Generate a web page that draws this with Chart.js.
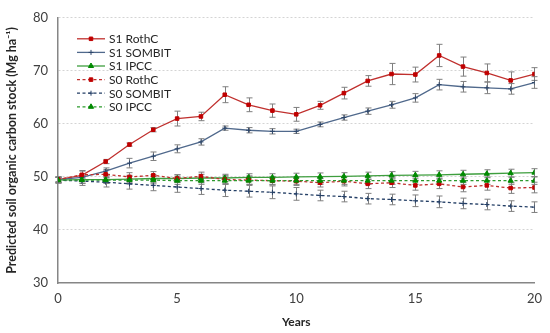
<!DOCTYPE html>
<html>
<head>
<meta charset="utf-8">
<script src="https://cdn.jsdelivr.net/npm/chart.js@4/dist/chart.umd.min.js"></script>
<style>
  html, body { margin: 0; padding: 0; background: #fff; }
  #wrap { width: 550px; height: 333px; position: relative; }
</style>
</head>
<body>
<div id="wrap"><canvas id="chart"></canvas></div>
<script>
const years = [0, 1, 2, 3, 4, 5, 6, 7, 8, 9, 10, 11, 12, 13, 14, 15, 16, 17, 18, 19, 20];
const seriesNames = ["S1 RothC", "S1 SOMBIT", "S1 IPCC", "S0 RothC", "S0 SOMBIT", "S0 IPCC"];
const yTicks = [30, 40, 50, 60, 70, 80];
const xTicks = [0, 5, 10, 15, 20];

const s1Roth = [49.5, 50.3, 52.9, 56.1, 58.9, 61.0, 61.4, 65.5, 63.6, 62.5, 61.8, 63.5, 65.8, 68.1, 69.4, 69.3, 72.9, 70.8, 69.6, 68.2, 69.4];
const s1Sombit = [49.5, 49.9, 51.1, 52.6, 53.9, 55.3, 56.6, 59.2, 58.8, 58.6, 58.6, 59.9, 61.2, 62.4, 63.6, 64.9, 67.4, 67.0, 66.8, 66.6, 67.8];
const s1Ipcc = [49.4, 49.5, 49.5, 49.6, 49.7, 49.7, 49.8, 49.8, 49.9, 49.9, 50.0, 50.05, 50.1, 50.2, 50.3, 50.35, 50.4, 50.5, 50.6, 50.7, 50.8];
const s0Roth = [49.5, 50.4, 50.5, 50.0, 50.3, 49.7, 50.1, 49.5, 49.4, 49.3, 49.2, 48.9, 49.2, 48.7, 48.9, 48.4, 48.7, 48.1, 48.4, 47.9, 48.0];
const s0Sombit = [49.4, 49.2, 49.0, 48.7, 48.4, 48.1, 47.8, 47.5, 47.3, 47.1, 46.8, 46.5, 46.3, 45.9, 45.75, 45.5, 45.3, 45.0, 44.8, 44.5, 44.3];
const s0Ipcc = [49.4, 49.4, 49.4, 49.4, 49.4, 49.3, 49.3, 49.3, 49.3, 49.3, 49.3, 49.3, 49.3, 49.3, 49.3, 49.3, 49.3, 49.3, 49.3, 49.3, 49.3];

// +/- error bar sizes
const s1RothErr = [0.5, 0.8, 0.4, 0.3, 0.4, 1.4, 0.8, 1.5, 1.3, 1.25, 1.3, 0.75, 1.1, 1.0, 2.0, 1.4, 2.1, 1.8, 1.7, 1.6, 1.2];
const s1SombitErr = [0.4, 0.3, 0.6, 0.9, 0.8, 0.75, 0.6, 0.4, 0.5, 0.5, 0.4, 0.45, 0.5, 0.6, 0.65, 0.8, 1.0, 1.0, 1.1, 1.0, 1.1];
const s1IpccErr = [0.6, 0.7, 0.7, 0.7, 0.7, 0.7, 0.7, 0.7, 0.7, 0.7, 0.7, 0.7, 0.7, 0.7, 0.7, 0.7, 0.75, 0.75, 0.75, 0.75, 0.75];
const s0RothErr = [0.5, 0.8, 0.9, 0.8, 0.7, 0.7, 0.8, 0.8, 0.8, 0.8, 0.8, 0.8, 0.9, 0.9, 0.9, 0.9, 0.9, 0.9, 0.9, 1.0, 1.0];
const s0SombitErr = [0.5, 0.8, 0.9, 1.0, 1.0, 1.0, 1.1, 1.2, 1.1, 1.2, 1.2, 1.0, 1.0, 1.0, 1.0, 1.1, 1.1, 1.0, 1.0, 1.0, 1.0];
const s0IpccErr = [0.5, 0.6, 0.6, 0.7, 0.7, 0.7, 0.7, 0.7, 0.7, 0.7, 0.7, 0.7, 0.7, 0.7, 0.7, 0.7, 0.7, 0.7, 0.7, 0.7, 0.7];

const FONT = "Lato, 'Open Sans', sans-serif";

function pts(vals) {
  return years.map((x, i) => ({ x: x, y: vals[i] }));
}

function makeSet(i, vals, errs, line, marker, style, radius, dashed) {
  return {
    label: seriesNames[i],
    data: pts(vals),
    errors: errs,
    borderColor: line,
    borderWidth: 1.3,
    borderDash: dashed ? [3, 2.5] : [],
    pointStyle: style,
    pointRadius: radius,
    pointBackgroundColor: marker,
    pointBorderColor: marker,
    pointBorderWidth: 1,
    tension: 0,
    order: 5 - i
  };
}

const datasets = [
  makeSet(0, s1Roth, s1RothErr, '#C0302E', '#C00000', 'rect', 2.5, false),
  makeSet(1, s1Sombit, s1SombitErr, '#50698C', '#2B4468', 'cross', 2.5, false),
  makeSet(2, s1Ipcc, s1IpccErr, '#3E9E3E', '#008A00', 'triangle', 3, false),
  makeSet(3, s0Roth, s0RothErr, '#C0302E', '#C00000', 'rect', 2.5, true),
  makeSet(4, s0Sombit, s0SombitErr, '#243F66', '#243F66', 'cross', 2.5, true),
  makeSet(5, s0Ipcc, s0IpccErr, '#2E9A2E', '#008A00', 'triangle', 3, true)
];

// grey error bars, drawn under the lines
const errorBars = {
  id: 'errorBars',
  beforeDatasetsDraw(chart) {
    const ctx = chart.ctx;
    const xs = chart.scales.x, ys = chart.scales.y;
    ctx.save();
    ctx.strokeStyle = '#7F7F7F';
    ctx.lineWidth = 1;
    chart.data.datasets.forEach(ds => {
      ds.data.forEach((p, i) => {
        const e = ds.errors[i];
        const px = Math.round(xs.getPixelForValue(p.x)) + 0.5;
        const top = ys.getPixelForValue(p.y + e);
        const bot = ys.getPixelForValue(p.y - e);
        ctx.beginPath();
        ctx.moveTo(px, top); ctx.lineTo(px, bot);
        ctx.moveTo(px - 3, top); ctx.lineTo(px + 3, top);
        ctx.moveTo(px - 3, bot); ctx.lineTo(px + 3, bot);
        ctx.stroke();
      });
    });
    ctx.restore();
  }
};

// legend box inside the plot, top left
const insideLegend = {
  id: 'insideLegend',
  afterDraw(chart) {
    const ctx = chart.ctx;
    const area = chart.chartArea;
    const x0 = area.left + 19, y0 = area.top + 21, step = 13.6;
    ctx.save();
    chart.data.datasets.forEach((ds, i) => {
      const y = y0 + i * step;
      ctx.strokeStyle = ds.borderColor;
      ctx.lineWidth = 1.3;
      ctx.setLineDash(ds.borderDash);
      ctx.beginPath();
      ctx.moveTo(x0, y); ctx.lineTo(x0 + 28, y);
      ctx.stroke();
      ctx.setLineDash([]);
      ctx.fillStyle = ds.pointBackgroundColor;
      ctx.strokeStyle = ds.pointBorderColor;
      ctx.lineWidth = 1;
      Chart.helpers.drawPoint(ctx, {
        pointStyle: ds.pointStyle,
        radius: ds.pointRadius,
        borderWidth: ds.pointBorderWidth,
        rotation: 0
      }, x0 + 14, y);
      ctx.fillStyle = '#262626';
      ctx.font = '12px ' + FONT;
      ctx.textBaseline = 'middle';
      ctx.textAlign = 'left';
      ctx.fillText(ds.label, x0 + 32, y + 0.5);
    });
    ctx.restore();
  }
};

new Chart(document.getElementById('chart'), {
  type: 'line',
  data: { datasets: datasets },
  plugins: [errorBars, insideLegend],
  options: {
    responsive: true,
    maintainAspectRatio: false,
    animation: false,
    layout: { padding: { top: 10, right: 12, left: 0, bottom: 0 } },
    plugins: { legend: { display: false }, tooltip: { enabled: false } },
    scales: {
      x: {
        type: 'linear',
        min: 0, max: 20,
        afterFit: s => { s.height = 50; },
        afterBuildTicks: s => { s.ticks = xTicks.map(v => ({ value: v })); },
        grid: { display: false, drawTicks: false },
        border: { color: '#868686', width: 1.5 },
        ticks: { color: '#404040', font: { size: 13, family: FONT }, padding: 8 },
        title: {
          display: true, text: 'Years', color: '#262626',
          font: { size: 12, weight: 'bold', family: FONT }, padding: { top: 2 }
        }
      },
      y: {
        min: 30, max: 80,
        afterFit: s => { s.width = 58; },
        afterBuildTicks: s => { s.ticks = yTicks.map(v => ({ value: v })); },
        grid: {
          color: ctx => ctx.tick.value === 30 ? 'rgba(0,0,0,0)' : '#D4D4D4',
          drawTicks: false, lineWidth: 1
        },
        border: { color: '#868686', width: 1.5, dash: [2, 2] },
        ticks: { color: '#404040', font: { size: 13, family: FONT }, padding: 10 },
        title: {
          display: true, text: 'Predicted soil organic carbon stock (Mg ha\u207B\u00B9)', color: '#262626',
          font: { size: 12.5, weight: 'bold', family: FONT }, padding: { bottom: 1 }
        }
      }
    }
  }
});
</script>
</body>
</html>
